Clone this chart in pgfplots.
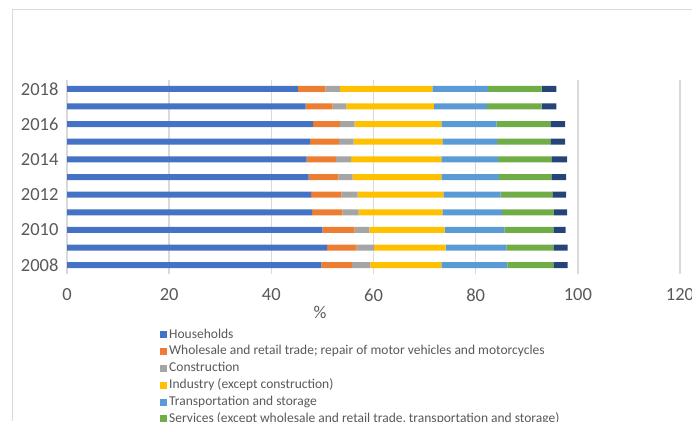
\documentclass[border=0pt]{standalone}
\usepackage{pgfplots}
\usepackage{pgfplotstable}
\pgfplotsset{compat=1.18}
\usepackage{fontspec}
\setmainfont{Carlito}
\definecolor{c1}{HTML}{4472C4}
\definecolor{c2}{HTML}{ED7D31}
\definecolor{c3}{HTML}{A5A5A5}
\definecolor{c4}{HTML}{FFC000}
\definecolor{c5}{HTML}{5B9BD5}
\definecolor{c6}{HTML}{70AD47}
\definecolor{c7}{HTML}{264478}
\definecolor{gridgray}{HTML}{D9D9D9}
\definecolor{txtgray}{HTML}{595959}
\pgfplotstableread{
year h w c i t s o
2008 49.8 6.0 3.6 13.9 12.9 9.0 2.8
2009 50.9 5.8 3.4 14.0 11.9 9.2 2.8
2010 50.0 6.3 2.9 14.7 11.7 9.6 2.4
2011 48.0 5.9 3.2 16.4 11.7 10.1 2.6
2012 47.8 5.9 3.2 16.8 11.2 10.1 2.7
2013 47.3 5.8 2.8 17.4 11.3 10.2 2.9
2014 46.9 5.8 2.9 17.7 11.1 10.4 3.1
2015 47.6 5.6 2.9 17.4 10.7 10.4 2.9
2016 48.2 5.2 2.9 17.0 10.8 10.5 2.9
2017 46.7 5.3 2.7 17.1 10.4 10.7 2.9
2018 45.2 5.4 2.8 18.1 10.9 10.5 2.9
}\datatable
\begin{document}
\begin{tikzpicture}[x=1pt,y=1pt]
\useasboundingbox (0,0) rectangle (692,421);
\clip (0,0) rectangle (692,421);
\draw[gridgray, line width=1pt] (12,0) -- (12,411) -- (692,411);
\begin{axis}[
  at={(67pt,147pt)}, anchor=south west,
  scale only axis, width=613pt, height=194pt,
  xbar stacked, bar width=6pt,
  xmin=0, xmax=120, ymin=2007.5, ymax=2018.5,
  xtick={0,20,...,120}, ytick={2008,2010,...,2018},
  yticklabel style={/pgf/number format/1000 sep={}},
  /pgf/number format/assume math mode=true,
  axis line style={draw=none}, tick style={draw=none},
  xmajorgrids, major grid style={gridgray, line width=1.5pt},
  tick label style={font=\fontsize{18.5}{22}\selectfont, text=txtgray},
  xticklabel shift=11pt, yticklabel shift=5pt,
  xlabel={\%},
  xlabel style={at={(axis description cs:0.413,-0.2)}, anchor=center, font=\fontsize{18}{21}\selectfont, text=txtgray},
  legend style={at={(axis description cs:0.146,-0.27)}, anchor=north west, draw=none,
    font=\fontsize{13.5}{16}\selectfont, text=txtgray, row sep=4.3pt, column sep=2.5pt,
    nodes={inner sep=0pt, text height=9.5pt, text depth=3pt}},
  legend cell align=left,
  legend image code/.code={\fill[#1] (0pt,-3.5pt) rectangle (7pt,3.5pt);},
]
\addplot[fill=c1, draw=none] table[x=h, y=year] {\datatable};
\addplot[fill=c2, draw=none] table[x=w, y=year] {\datatable};
\addplot[fill=c3, draw=none] table[x=c, y=year] {\datatable};
\addplot[fill=c4, draw=none] table[x=i, y=year] {\datatable};
\addplot[fill=c5, draw=none] table[x=t, y=year] {\datatable};
\addplot[fill=c6, draw=none] table[x=s, y=year] {\datatable};
\addplot[fill=c7, draw=none] table[x=o, y=year] {\datatable};
\legend{Households,
Wholesale and retail trade; repair of motor vehicles and motorcycles,
Construction,
Industry (except construction),
Transportation and storage,
{Services (except wholesale and retail trade, transportation and storage)}}
\end{axis}
\end{tikzpicture}
\end{document}
